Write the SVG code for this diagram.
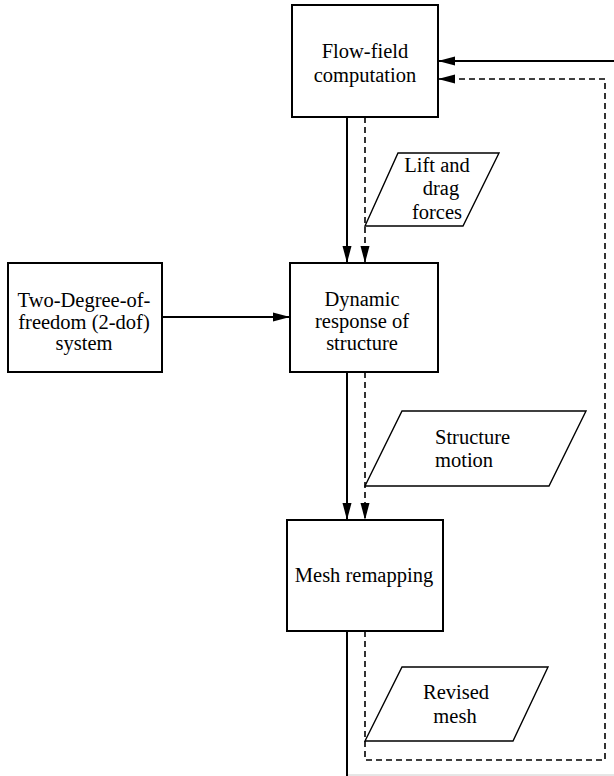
<svg xmlns="http://www.w3.org/2000/svg" width="614" height="776" viewBox="0 0 614 776">
<style>
.box{fill:#fff;stroke:#000;stroke-width:2}
.para{fill:#fff;stroke:#000;stroke-width:1.4}
text{font-family:'Liberation Serif','DejaVu Serif',serif;font-size:20.5px;fill:#000;text-anchor:middle}
.ln{fill:none;stroke:#000;stroke-width:2}
.dl{fill:none;stroke:#000;stroke-width:1.6;stroke-dasharray:6 4}
</style>
<defs>
<marker id="ah" markerWidth="17" markerHeight="10" refX="17" refY="5" orient="auto" markerUnits="userSpaceOnUse">
<path d="M0,0.5 L17,5 L0,9.5 Z" fill="#000"/>
</marker>
</defs>
<rect width="614" height="776" fill="#fff"/>
<g id="connectors">
<path class="ln" d="M614,61 L438,61" marker-end="url(#ah)"/>
<path class="dl" d="M365,117 L365,263" marker-end="url(#ah)"/>
<path class="dl" d="M365,372 L365,520" marker-end="url(#ah)"/>
<path class="dl" d="M365,631 L365,760 L605,760 L605,79 L438,79" marker-end="url(#ah)"/>
<path class="ln" d="M347,117 L347,263" marker-end="url(#ah)"/>
<path class="ln" d="M347,372 L347,520" marker-end="url(#ah)"/>
<path class="ln" d="M347,631 L347,776"/>
<path class="ln" d="M162,317 L290,317" marker-end="url(#ah)"/>
<path d="M348,775 L614,775" stroke="#ccc" stroke-width="1" fill="none"/>
</g>
<g id="flow">
<rect class="box" x="292" y="5" width="146" height="112"/>
<text x="365" y="58">Flow-field</text>
<text x="365" y="82">computation</text>
</g>
<g id="lift">
<polygon class="para" points="398,153 499,153 463,226 365,226"/>
<text x="437" y="172">Lift and</text>
<text x="441" y="195">drag</text>
<text x="437" y="219">forces</text>
</g>
<g id="twodof">
<rect class="box" x="8" y="263" width="154" height="109"/>
<text x="84" y="307">Two-Degree-of-</text>
<text x="84" y="329">freedom (2-dof)</text>
<text x="84" y="350">system</text>
</g>
<g id="dynamic">
<rect class="box" x="290" y="263" width="148" height="109"/>
<text x="362" y="306">Dynamic</text>
<text x="362" y="328">response of</text>
<text x="362" y="350">structure</text>
</g>
<g id="motion">
<polygon class="para" points="402,411 586,411 549,486 365,486"/>
<text x="435" y="444" style="text-anchor:start">Structure</text>
<text x="435" y="467" style="text-anchor:start">motion</text>
</g>
<g id="mesh">
<rect class="box" x="287" y="520" width="156" height="111"/>
<text x="364" y="582">Mesh remapping</text>
</g>
<g id="revised">
<polygon class="para" points="402,667 548,667 513,741 365,741"/>
<text x="456" y="699">Revised</text>
<text x="455" y="723">mesh</text>
</g>
</svg>
